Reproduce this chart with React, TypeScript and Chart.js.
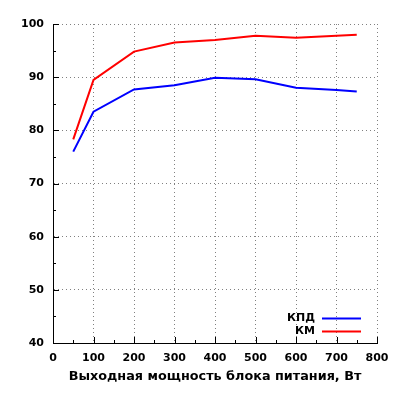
import React, { useRef, useEffect } from 'react';
import { Chart, registerables } from 'chart.js';

Chart.register(...registerables);

// Output power of the PSU, W
const power = [50, 100, 200, 300, 400, 500, 600, 700, 750];
// КПД (efficiency), %
const efficiency = [76.0, 83.5, 87.7, 88.5, 89.9, 89.6, 88.0, 87.6, 87.3];
// КМ (power factor), %
const powerFactor = [78.3, 89.5, 94.8, 96.5, 97.0, 97.8, 97.4, 97.8, 98.0];
const seriesLabels = ['КПД', 'КМ'];
const seriesColors = ['#0000ff', '#ff0000'];
const xAxisTitle = 'Выходная мощность блока питания, Вт';

const FONT = { family: '"DejaVu Sans", sans-serif', size: 11, weight: 'bold' as const };
const TITLE_FONT = { family: '"DejaVu Sans", sans-serif', size: 12.8, weight: 'bold' as const };

// gnuplot style ticks pointing into the plot, major + minor
const inwardTicks = {
  id: 'inwardTicks',
  afterDatasetsDraw(chart: Chart) {
    const { ctx, chartArea, scales } = chart;
    const xs = scales.x;
    const ys = scales.y;
    ctx.save();
    ctx.strokeStyle = '#000';
    ctx.lineWidth = 1;
    ctx.beginPath();
    const xv = xs.ticks.map((t) => t.value);
    xv.forEach((v, i) => {
      const px = Math.round(xs.getPixelForValue(v)) + 0.5;
      ctx.moveTo(px, chartArea.bottom);
      ctx.lineTo(px, chartArea.bottom - 6);
      if (i < xv.length - 1) {
        const m = Math.round(xs.getPixelForValue((v + xv[i + 1]) / 2)) + 0.5;
        ctx.moveTo(m, chartArea.bottom);
        ctx.lineTo(m, chartArea.bottom - 3);
      }
    });
    const yv = ys.ticks.map((t) => t.value);
    yv.forEach((v, i) => {
      const py = Math.round(ys.getPixelForValue(v)) + 0.5;
      ctx.moveTo(chartArea.left, py);
      ctx.lineTo(chartArea.left + 6, py);
      if (i < yv.length - 1) {
        const m = Math.round(ys.getPixelForValue((v + yv[i + 1]) / 2)) + 0.5;
        ctx.moveTo(chartArea.left, m);
        ctx.lineTo(chartArea.left + 3, m);
      }
    });
    ctx.stroke();
    ctx.restore();
  },
};

// legend inside the bottom-right corner: label then line sample
const cornerLegend = {
  id: 'cornerLegend',
  afterDatasetsDraw(chart: Chart) {
    const { ctx, chartArea } = chart;
    ctx.save();
    ctx.font = `bold ${FONT.size}px ${FONT.family}`;
    ctx.textAlign = 'right';
    ctx.textBaseline = 'middle';
    chart.data.datasets.forEach((ds, i) => {
      const y = Math.round(chartArea.bottom - 25 + i * 13) + 0.5;
      ctx.fillStyle = '#000';
      ctx.fillText(String(ds.label), chartArea.right - 62, y);
      ctx.strokeStyle = ds.borderColor as string;
      ctx.lineWidth = 2;
      ctx.beginPath();
      ctx.moveTo(chartArea.right - 55, y);
      ctx.lineTo(chartArea.right - 16, y);
      ctx.stroke();
    });
    ctx.restore();
  },
};

const App: React.FC = () => {
  const chartRef = useRef<HTMLCanvasElement>(null);
  const chartInstance = useRef<Chart | null>(null);

  useEffect(() => {
    if (!chartRef.current) return;
    if (chartInstance.current) chartInstance.current.destroy();

    const series = [efficiency, powerFactor];

    chartInstance.current = new Chart(chartRef.current, {
      type: 'line',
      data: {
        datasets: series.map((vals, i) => ({
          label: seriesLabels[i],
          data: power.map((p, j) => ({ x: p, y: vals[j] })),
          borderColor: seriesColors[i],
          backgroundColor: seriesColors[i],
          borderWidth: 2,
          pointRadius: 0,
          tension: 0,
          fill: false,
        })),
      },
      options: {
        animation: false,
        responsive: true,
        maintainAspectRatio: false,
        layout: { padding: { top: 24, right: 23, left: 0, bottom: 0 } },
        plugins: {
          legend: { display: false },
          tooltip: { enabled: false },
        },
        scales: {
          x: {
            type: 'linear',
            min: 0,
            max: 800,
            afterFit: (scale) => {
              scale.height = 57;
            },
            ticks: { stepSize: 100, color: '#000', font: FONT, padding: 9, maxRotation: 0 },
            grid: { color: '#808080', lineWidth: 1, drawTicks: false },
            border: { display: true, color: '#000', width: 1, dash: [1, 3] },
            title: {
              display: true,
              text: xAxisTitle,
              color: '#000',
              font: TITLE_FONT,
              padding: { top: 0, bottom: 16 },
            },
          },
          y: {
            type: 'linear',
            min: 40,
            max: 100,
            afterFit: (scale) => {
              scale.width = 53;
            },
            ticks: { stepSize: 10, color: '#000', font: FONT, padding: 9 },
            grid: { color: '#808080', lineWidth: 1, drawTicks: false },
            border: { display: true, color: '#000', width: 1, dash: [1, 3] },
          },
        },
      },
      plugins: [inwardTicks, cornerLegend],
    });

    return () => {
      if (chartInstance.current) {
        chartInstance.current.destroy();
        chartInstance.current = null;
      }
    };
  }, []);

  return (
    <div style={{ position: 'fixed', left: 0, top: 0, width: 400, height: 400, background: '#fff' }}>
      <canvas ref={chartRef} />
    </div>
  );
};

export default App;
